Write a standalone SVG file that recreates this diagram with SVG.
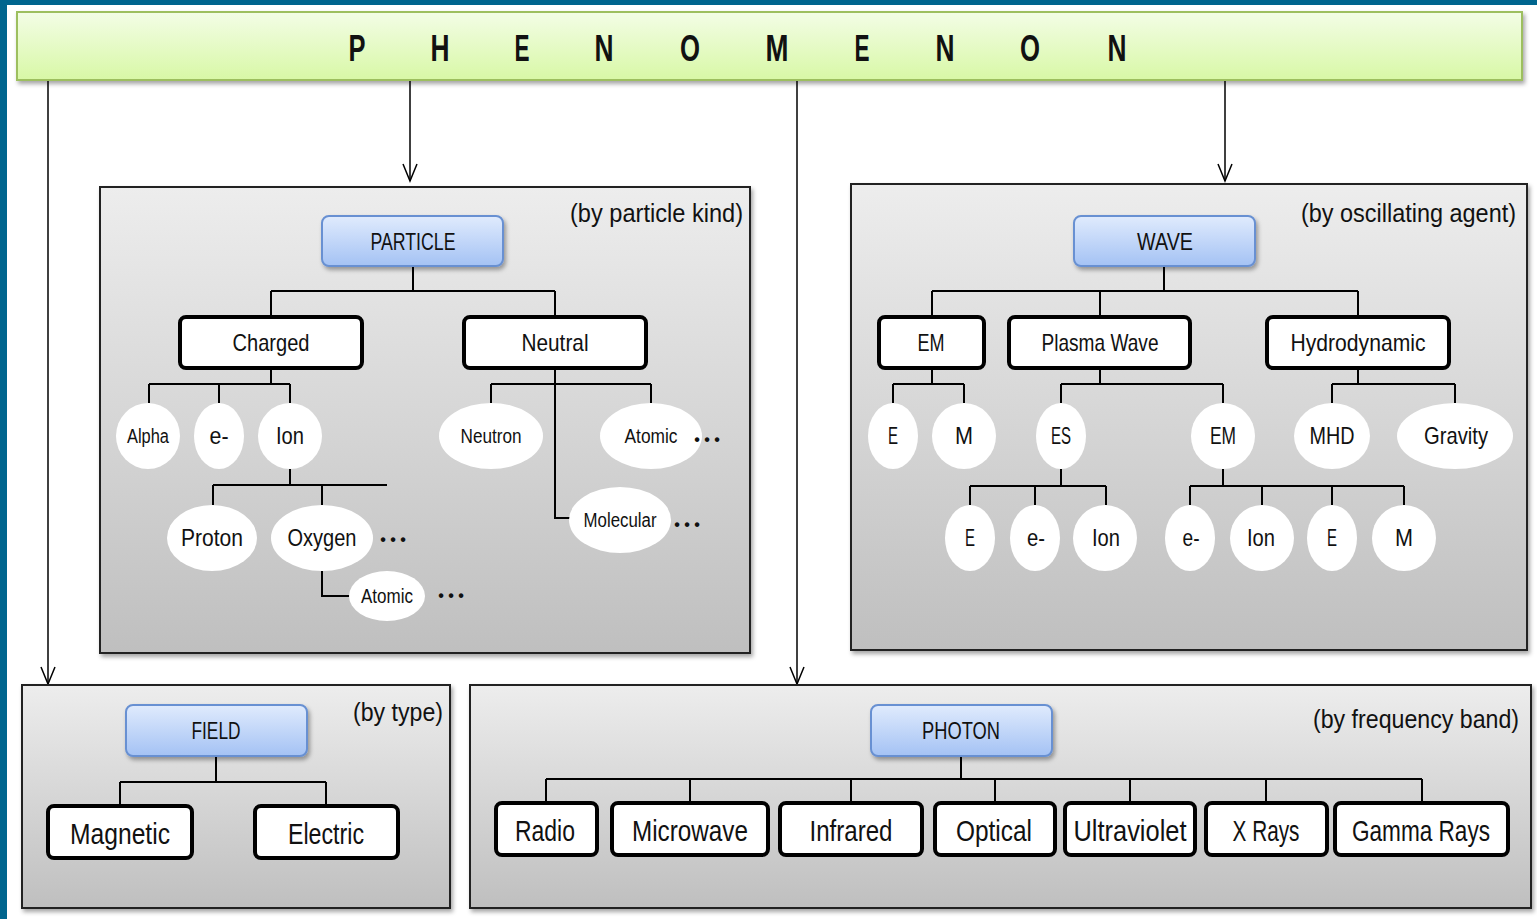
<svg xmlns="http://www.w3.org/2000/svg" width="1537" height="919" viewBox="0 0 1537 919">
<defs>
<linearGradient id="gHead" x1="0" y1="0" x2="0" y2="1"><stop offset="0" stop-color="#f3fde6"/><stop offset="1" stop-color="#d8f8a6"/></linearGradient>
<linearGradient id="gGroup" x1="0" y1="0" x2="0" y2="1"><stop offset="0" stop-color="#ededed"/><stop offset="1" stop-color="#bfbfbf"/></linearGradient>
<linearGradient id="gBlue" x1="0" y1="0" x2="0" y2="1"><stop offset="0" stop-color="#e0ebfd"/><stop offset="1" stop-color="#a4c2f4"/></linearGradient>
<filter id="sh" x="-10%" y="-10%" width="120%" height="130%"><feDropShadow dx="2" dy="3" stdDeviation="2" flood-color="#000" flood-opacity="0.35"/></filter>
<marker id="arr" viewBox="-20 -10 22 20" refX="0" refY="0" markerWidth="22" markerHeight="20" markerUnits="userSpaceOnUse" orient="auto"><path d="M-17,-7 L0,0 L-17,7" fill="none" stroke="#000" stroke-width="1.5"/></marker>
</defs>
<style>
text{font-family:"Liberation Sans",Arial,sans-serif;fill:#111;text-anchor:middle}
.hl{font-weight:bold;font-size:36px}
.grp{fill:url(#gGroup);stroke:#222;stroke-width:2;filter:url(#sh)}
.blue{fill:url(#gBlue);stroke:#6790d2;stroke-width:2;filter:url(#sh)}
.bx{fill:#fff;stroke:#000;stroke-width:4}
.el{fill:#fff}
.t24{font-size:24px}
.t20{font-size:20px}
.t30{font-size:30px}
.cap{font-size:26px;text-anchor:end}
.dots{font-size:16px;font-weight:bold}
.ln{fill:none;stroke:#000;stroke-width:2}
.ar{fill:none;stroke:#000;stroke-width:1.5;marker-end:url(#arr)}
</style>
<rect x="0" y="0" width="1537" height="919" fill="#fff"/>
<rect x="0" y="0" width="7" height="919" fill="#00658e"/>
<rect x="0" y="0" width="1537" height="5" fill="#00658e"/>

<g id="connectors">
<path class="ar" d="M48 80 V684"/>
<path class="ar" d="M410 80 V181"/>
<path class="ar" d="M797 80 V684"/>
<path class="ar" d="M1225 80 V181"/>
</g>

<g id="header">
<rect x="17" y="12" width="1505" height="68" fill="url(#gHead)" stroke="#9dbf5e" stroke-width="2" filter="url(#sh)"/>
<text class="hl" x="357" y="61" textLength="17" lengthAdjust="spacingAndGlyphs">P</text>
<text class="hl" x="440" y="61" textLength="19" lengthAdjust="spacingAndGlyphs">H</text>
<text class="hl" x="522" y="61" textLength="15" lengthAdjust="spacingAndGlyphs">E</text>
<text class="hl" x="604" y="61" textLength="19" lengthAdjust="spacingAndGlyphs">N</text>
<text class="hl" x="690" y="61" textLength="20" lengthAdjust="spacingAndGlyphs">O</text>
<text class="hl" x="777" y="61" textLength="23" lengthAdjust="spacingAndGlyphs">M</text>
<text class="hl" x="862" y="61" textLength="15" lengthAdjust="spacingAndGlyphs">E</text>
<text class="hl" x="945" y="61" textLength="19" lengthAdjust="spacingAndGlyphs">N</text>
<text class="hl" x="1030" y="61" textLength="20" lengthAdjust="spacingAndGlyphs">O</text>
<text class="hl" x="1117" y="61" textLength="19" lengthAdjust="spacingAndGlyphs">N</text>
</g>

<g id="particle-group">
<rect class="grp" x="100" y="187" width="650" height="466"/>
<text class="cap" x="743" y="222" textLength="173" lengthAdjust="spacingAndGlyphs">(by particle kind)</text>
<path class="ln" d="M413 266 V291 M271 291 H555 M271 291 V317 M555 291 V317 M271 368 V384 M149 384 H290 M149 384 V403 M219 384 V403 M290 384 V403 M290 469 V485 M213 485 H387 M213 485 V505 M322 485 V505 M322 571 V596 H350 M555 368 V518 H571 M491 384 H651 M491 384 V403 M651 384 V403"/>
</g>
<g id="particle"><rect class="blue" x="322" y="216" width="181" height="50" rx="7"/><text class="t24" x="413" y="250" textLength="85" lengthAdjust="spacingAndGlyphs">PARTICLE</text></g>
<g id="charged"><rect class="bx" x="180" y="317" width="182" height="51" rx="6"/><text class="t24" x="271" y="351" textLength="77" lengthAdjust="spacingAndGlyphs">Charged</text></g>
<g id="neutral"><rect class="bx" x="464" y="317" width="182" height="51" rx="6"/><text class="t24" x="555" y="351" textLength="67" lengthAdjust="spacingAndGlyphs">Neutral</text></g>
<g id="alpha"><ellipse class="el" cx="148" cy="436" rx="32" ry="33"/><text class="t20" x="148" y="443" textLength="42" lengthAdjust="spacingAndGlyphs">Alpha</text></g>
<g id="p-electron"><ellipse class="el" cx="219" cy="436" rx="25" ry="33"/><text class="t24" x="219" y="444" textLength="19" lengthAdjust="spacingAndGlyphs">e-</text></g>
<g id="p-ion"><ellipse class="el" cx="290" cy="436" rx="32" ry="33"/><text class="t24" x="290" y="444" textLength="28" lengthAdjust="spacingAndGlyphs">Ion</text></g>
<g id="neutron"><ellipse class="el" cx="491" cy="436" rx="52" ry="33"/><text class="t20" x="491" y="443" textLength="61" lengthAdjust="spacingAndGlyphs">Neutron</text></g>
<g id="n-atomic"><ellipse class="el" cx="651" cy="436" rx="51" ry="33"/><text class="t20" x="651" y="443" textLength="53" lengthAdjust="spacingAndGlyphs">Atomic</text><text class="dots" x="707" y="445">• • •</text></g>
<g id="molecular"><ellipse class="el" cx="620" cy="520" rx="51" ry="33"/><text class="t20" x="620" y="527" textLength="73" lengthAdjust="spacingAndGlyphs">Molecular</text><text class="dots" x="687" y="530">• • •</text></g>
<g id="proton"><ellipse class="el" cx="212" cy="538" rx="45" ry="33"/><text class="t24" x="212" y="546" textLength="62" lengthAdjust="spacingAndGlyphs">Proton</text></g>
<g id="oxygen"><ellipse class="el" cx="322" cy="538" rx="51" ry="33"/><text class="t24" x="322" y="546" textLength="69" lengthAdjust="spacingAndGlyphs">Oxygen</text><text class="dots" x="393" y="545">• • •</text></g>
<g id="o-atomic"><ellipse class="el" cx="387" cy="596" rx="38" ry="25"/><text class="t20" x="387" y="603" textLength="52" lengthAdjust="spacingAndGlyphs">Atomic</text><text class="dots" x="451" y="601">• • •</text></g>

<g id="wave-group">
<rect class="grp" x="851" y="184" width="676" height="466"/>
<text class="cap" x="1516" y="222" textLength="215" lengthAdjust="spacingAndGlyphs">(by oscillating agent)</text>
<path class="ln" d="M1164 266 V291 M932 291 H1358 M932 291 V317 M1100 291 V317 M1358 291 V317 M932 368 V384 M893 384 H964 M893 384 V403 M964 384 V403 M1100 368 V384 M1061 384 H1223 M1061 384 V403 M1223 384 V403 M1358 368 V384 M1332 384 H1455 M1332 384 V403 M1455 384 V403 M1061 469 V486 M970 486 H1106 M970 486 V505 M1035 486 V505 M1106 486 V505 M1223 469 V486 M1190 486 H1404 M1190 486 V505 M1262 486 V505 M1332 486 V505 M1404 486 V505"/>
</g>
<g id="wave"><rect class="blue" x="1074" y="216" width="181" height="50" rx="7"/><text class="t24" x="1165" y="250" textLength="56" lengthAdjust="spacingAndGlyphs">WAVE</text></g>
<g id="w-em"><rect class="bx" x="879" y="317" width="105" height="51" rx="6"/><text class="t24" x="931" y="351" textLength="27" lengthAdjust="spacingAndGlyphs">EM</text></g>
<g id="plasma"><rect class="bx" x="1009" y="317" width="181" height="51" rx="6"/><text class="t24" x="1100" y="351" textLength="117" lengthAdjust="spacingAndGlyphs">Plasma Wave</text></g>
<g id="hydro"><rect class="bx" x="1267" y="317" width="182" height="51" rx="6"/><text class="t24" x="1358" y="351" textLength="135" lengthAdjust="spacingAndGlyphs">Hydrodynamic</text></g>
<g id="em-e"><ellipse class="el" cx="893" cy="436" rx="25" ry="33"/><text class="t24" x="893" y="444" textLength="10" lengthAdjust="spacingAndGlyphs">E</text></g>
<g id="em-m"><ellipse class="el" cx="964" cy="436" rx="32" ry="33"/><text class="t24" x="964" y="444" textLength="18" lengthAdjust="spacingAndGlyphs">M</text></g>
<g id="es"><ellipse class="el" cx="1061" cy="436" rx="25" ry="33"/><text class="t24" x="1061" y="444" textLength="20" lengthAdjust="spacingAndGlyphs">ES</text></g>
<g id="pw-em"><ellipse class="el" cx="1223" cy="436" rx="32" ry="33"/><text class="t24" x="1223" y="444" textLength="26" lengthAdjust="spacingAndGlyphs">EM</text></g>
<g id="mhd"><ellipse class="el" cx="1332" cy="436" rx="38" ry="33"/><text class="t24" x="1332" y="444" textLength="45" lengthAdjust="spacingAndGlyphs">MHD</text></g>
<g id="gravity"><ellipse class="el" cx="1455" cy="436" rx="58" ry="33"/><text class="t24" x="1456" y="444" textLength="64" lengthAdjust="spacingAndGlyphs">Gravity</text></g>
<g id="es-e"><ellipse class="el" cx="970" cy="538" rx="25" ry="33"/><text class="t24" x="970" y="546" textLength="10" lengthAdjust="spacingAndGlyphs">E</text></g>
<g id="es-electron"><ellipse class="el" cx="1035" cy="538" rx="25" ry="33"/><text class="t24" x="1036" y="546" textLength="18" lengthAdjust="spacingAndGlyphs">e-</text></g>
<g id="es-ion"><ellipse class="el" cx="1105" cy="538" rx="32" ry="33"/><text class="t24" x="1106" y="546" textLength="28" lengthAdjust="spacingAndGlyphs">Ion</text></g>
<g id="pem-electron"><ellipse class="el" cx="1190" cy="538" rx="25" ry="33"/><text class="t24" x="1191" y="546" textLength="17" lengthAdjust="spacingAndGlyphs">e-</text></g>
<g id="pem-ion"><ellipse class="el" cx="1262" cy="538" rx="32" ry="33"/><text class="t24" x="1261" y="546" textLength="28" lengthAdjust="spacingAndGlyphs">Ion</text></g>
<g id="pem-e"><ellipse class="el" cx="1332" cy="538" rx="25" ry="33"/><text class="t24" x="1332" y="546" textLength="10" lengthAdjust="spacingAndGlyphs">E</text></g>
<g id="pem-m"><ellipse class="el" cx="1404" cy="538" rx="32" ry="33"/><text class="t24" x="1404" y="546" textLength="18" lengthAdjust="spacingAndGlyphs">M</text></g>

<g id="field-group">
<rect class="grp" x="22" y="685" width="428" height="223"/>
<text class="cap" x="443" y="721" textLength="90" lengthAdjust="spacingAndGlyphs">(by type)</text>
<path class="ln" d="M216 756 V782 M120 782 H326 M120 782 V806 M326 782 V806"/>
</g>
<g id="field"><rect class="blue" x="126" y="705" width="181" height="51" rx="7"/><text class="t24" x="216" y="739" textLength="49" lengthAdjust="spacingAndGlyphs">FIELD</text></g>
<g id="magnetic"><rect class="bx" x="48" y="806" width="144" height="52" rx="6"/><text class="t30" x="120" y="844" textLength="100" lengthAdjust="spacingAndGlyphs">Magnetic</text></g>
<g id="electric"><rect class="bx" x="255" y="806" width="143" height="52" rx="6"/><text class="t30" x="326" y="844" textLength="76" lengthAdjust="spacingAndGlyphs">Electric</text></g>

<g id="photon-group">
<rect class="grp" x="470" y="685" width="1061" height="223"/>
<text class="cap" x="1519" y="728" textLength="206" lengthAdjust="spacingAndGlyphs">(by frequency band)</text>
<path class="ln" d="M961 756 V779 M546 779 H1422 M546 779 V803 M690 779 V803 M851 779 V803 M995 779 V803 M1130 779 V803 M1266 779 V803 M1422 779 V803"/>
</g>
<g id="photon"><rect class="blue" x="871" y="705" width="181" height="51" rx="7"/><text class="t24" x="961" y="739" textLength="78" lengthAdjust="spacingAndGlyphs">PHOTON</text></g>
<g id="radio"><rect class="bx" x="496" y="803" width="101" height="52" rx="6"/><text class="t30" x="545" y="841" textLength="60" lengthAdjust="spacingAndGlyphs">Radio</text></g>
<g id="microwave"><rect class="bx" x="612" y="803" width="156" height="52" rx="6"/><text class="t30" x="690" y="841" textLength="116" lengthAdjust="spacingAndGlyphs">Microwave</text></g>
<g id="infrared"><rect class="bx" x="780" y="803" width="142" height="52" rx="6"/><text class="t30" x="851" y="841" textLength="83" lengthAdjust="spacingAndGlyphs">Infrared</text></g>
<g id="optical"><rect class="bx" x="935" y="803" width="120" height="52" rx="6"/><text class="t30" x="994" y="841" textLength="76" lengthAdjust="spacingAndGlyphs">Optical</text></g>
<g id="ultraviolet"><rect class="bx" x="1065" y="803" width="130" height="52" rx="6"/><text class="t30" x="1130" y="841" textLength="113" lengthAdjust="spacingAndGlyphs">Ultraviolet</text></g>
<g id="xrays"><rect class="bx" x="1206" y="803" width="121" height="52" rx="6"/><text class="t30" x="1266" y="841" textLength="67" lengthAdjust="spacingAndGlyphs">X Rays</text></g>
<g id="gamma"><rect class="bx" x="1335" y="803" width="173" height="52" rx="6"/><text class="t30" x="1421" y="841" textLength="138" lengthAdjust="spacingAndGlyphs">Gamma Rays</text></g>
</svg>
